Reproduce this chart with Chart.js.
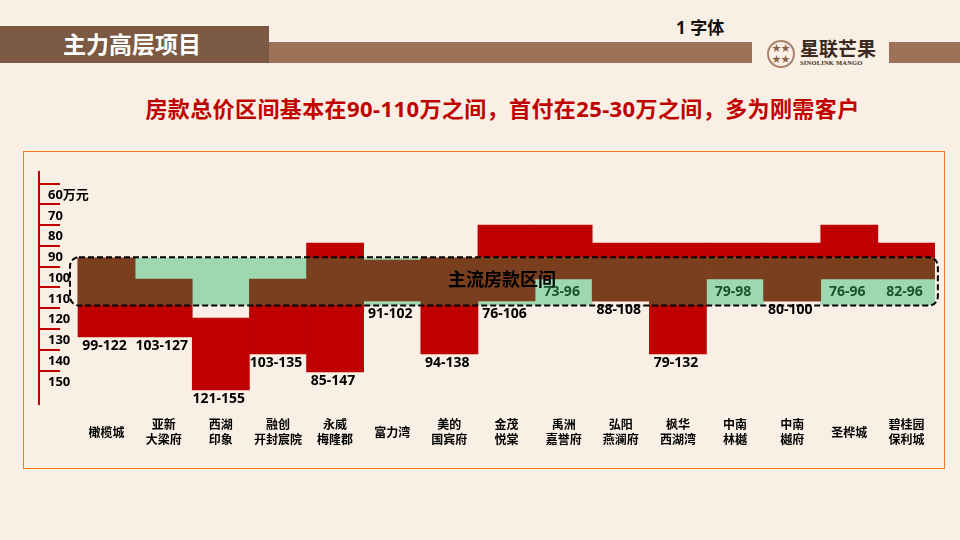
<!DOCTYPE html>
<html lang="zh">
<head>
<meta charset="UTF-8">
<title>主力高层项目</title>
<script src="https://cdn.jsdelivr.net/npm/chart.js"></script>
<style>
  body { margin: 0; background: #f9efe5; font-family: "Noto Sans", "Noto Sans CJK SC", sans-serif; }
  #page { position: relative; width: 960px; height: 540px; overflow: hidden; background: #f9efe5; }
  .bar-dark { position: absolute; left: 0; top: 26px; width: 269px; height: 37px; background: #7b5943; }
  .bar-light { position: absolute; top: 42px; height: 21px; background: #9e7259; }
  .title { position: absolute; left: 63px; top: 26px; height: 37px; line-height: 37px; color: #fff; font-weight: bold; font-size: 23px; }
  .tag { position: absolute; left: 676px; top: 14px; font-size: 17px; font-weight: bold; color: #111; }
  .logo { position: absolute; left: 767px; top: 40px; width: 24px; height: 24px; border: 2px solid #a8826a; border-radius: 50%; color: #8a6248; font-size: 9px; line-height: 11px; text-align: center; }
  .brand { position: absolute; left: 800px; top: 37px; font-size: 19px; font-weight: bold; color: #3b2a22; line-height: 24px; }
  .brand-en { position: absolute; left: 800px; top: 59px; font-size: 6.5px; font-family: "Liberation Serif", serif; font-weight: bold; color: #3b2a22; letter-spacing: 0.2px; }
  .sub { position: absolute; left: 0; width: 1005px; top: 91px; text-align: center; font-size: 22px; letter-spacing: 0.4px; font-weight: bold; color: #c00000; white-space: nowrap; }
  .box { position: absolute; left: 23px; top: 151px; width: 922px; height: 318px; outline: 1.5px solid #f07820; outline-offset: -1px; z-index: 2; pointer-events: none; }
  canvas { position: absolute; left: 0; top: 0; z-index: 1; }
</style>
</head>
<body>
<div id="page">
  <div class="bar-dark"></div>
  <div class="bar-light" style="left:269px; width:483px;"></div>
  <div class="bar-light" style="left:889px; width:71px;"></div>
  <div class="title">主力高层项目</div>
  <div class="tag">1 字体</div>
  <div class="logo">★★<br>★★</div>
  <div class="brand">星联芒果</div>
  <div class="brand-en">SINOLINK MANGO</div>
  <div class="sub">房款总价区间基本在90-110万之间，首付在25-30万之间，多为刚需客户</div>
  <canvas id="chart" width="960" height="540"></canvas>
  <div class="box"></div>
</div>

<script>
  // 项目名称（换行处用 \n）
  const categories = ['橄榄城', '亚新\n大梁府', '西湖\n印象', '融创\n开封宸院', '永威\n梅隆郡', '富力湾',
    '美的\n国宾府', '金茂\n悦棠', '禹洲\n嘉誉府', '弘阳\n燕澜府', '枫华\n西湖湾', '中南\n林樾', '中南\n樾府',
    '圣桦城', '碧桂园\n保利城'];

  // 总价区间文字
  const rangeText = ['99-122', '103-127', '121-155', '103-135', '85-147', '91-102', '94-138', '76-106',
    '73-96', '88-108', '79-132', '79-98', '80-100', '76-96', '82-96'];
  const labelInGreen = [false, false, false, false, false, false, false, false,
    true, false, false, true, false, true, true];

  // 色块区间（万元，按图上位置读取）
  const redBars = [[90.3, 128.3], [100.4, 128.3], [119.2, 153.8], [100.4, 136.5], [83.1, 145.2], null,
    [90.3, 136.5], [74.4, 111.0], [74.4, 100.4], [83.1, 111.0], [83.1, 136.5], [83.1, 100.4],
    [83.1, 111.0], [74.4, 100.4], [83.1, 100.4]];
  const greenBars = [null, [90.3, 100.4], [90.3, 112.9], [90.3, 100.4], null, [90.3, 112.9], null,
    [90.3, 112.9], [90.3, 112.9], null, null, [90.3, 112.9], null, [90.3, 112.9], [90.3, 112.9]];
  const brownBars = [[90.3, 112.9], [100.4, 112.9], null, [100.4, 112.9], [90.3, 112.9], [91.3, 111.0],
    [90.3, 112.9], [90.3, 111.0], [90.3, 100.4], [90.3, 111.0], [90.3, 112.9], [90.3, 100.4],
    [90.3, 111.0], [90.3, 100.4], [90.3, 100.4]];

  // 主流房款区间
  const mainBand = [89.9, 113.2];
  const bandTitle = '主流房款区间';

  // 纵轴刻度
  const tickValues = [60, 70, 80, 90, 100, 110, 120, 130, 140, 150];
  const tickLabels = ['60万元', '70', '80', '90', '100', '110', '120', '130', '140', '150'];

  const FONT = '"Noto Sans", "Noto Sans CJK SC", sans-serif';
  Chart.defaults.font.family = FONT;

  const overlay = {
    id: 'overlay',
    afterDatasetsDraw(chart) {
      const { ctx, scales: { x, y } } = chart;
      const left = x.getPixelForValue(-0.64);
      const right = x.getPixelForValue(14.55);
      const top = y.getPixelForValue(mainBand[0]);
      const bottom = y.getPixelForValue(mainBand[1]);
      ctx.save();
      ctx.setLineDash([6, 3]);
      ctx.lineWidth = 2;
      ctx.strokeStyle = '#000';
      ctx.beginPath();
      ctx.roundRect(left, top, right - left, bottom - top, 9);
      ctx.stroke();
      ctx.setLineDash([]);

      ctx.textAlign = 'center';
      ctx.textBaseline = 'middle';
      ctx.fillStyle = '#000';
      ctx.font = 'bold 18px ' + FONT;
      ctx.fillText(bandTitle, x.getPixelForValue(6.92), (top + bottom) / 2);

      ctx.font = 'bold 14px ' + FONT;
      rangeText.forEach((t, i) => {
        let py;
        if (labelInGreen[i]) {
          ctx.fillStyle = '#17552c';
          py = y.getPixelForValue((brownBars[i][1] + greenBars[i][1]) / 2);
        } else {
          ctx.fillStyle = '#000';
          const low = Math.max(...[redBars[i], greenBars[i], brownBars[i]].filter(Boolean).map(r => r[1]));
          py = y.getPixelForValue(low) + 9;
        }
        ctx.fillText(t, x.getPixelForValue(i) - 2, py);
      });
      ctx.restore();
    }
  };

  new Chart(document.getElementById('chart'), {
    type: 'bar',
    data: {
      labels: categories.map((_, i) => i),
      datasets: [
        { label: '重叠', data: brownBars, backgroundColor: '#7a3f1f', order: 1 },
        { label: '区间外', data: greenBars, backgroundColor: '#9fd8b0', order: 2 },
        { label: '总价', data: redBars, backgroundColor: '#c00000', order: 3 }
      ]
    },
    options: {
      responsive: false,
      animation: false,
      datasets: { bar: { grouped: false, barPercentage: 1, categoryPercentage: 1, borderWidth: 0 } },
      layout: { padding: { left: 39, right: 25, top: 172, bottom: 86 } },
      plugins: { legend: { display: false }, tooltip: { enabled: false } },
      scales: {
        x: {
          type: 'linear',
          offset: false,
          min: -1.1826,
          max: 14.5,
          grid: { display: false, drawTicks: false },
          border: { display: false },
          afterBuildTicks: s => { s.ticks = categories.map((_, i) => ({ value: i })); },
          afterFit: s => { s.height = 50; },
          ticks: {
            autoSkip: false,
            maxRotation: 0,
            crossAlign: 'center',
            padding: 22,
            color: '#000',
            font: { size: 12, weight: 'bold', lineHeight: 1.25 },
            callback: (v, i) => categories[i].split('\n')
          }
        },
        y: {
          reverse: true,
          min: 48.9,
          max: 160.6,
          afterBuildTicks: s => { s.ticks = tickValues.map(v => ({ value: v - 5.5 })); },
          afterFit: s => { s.width = 0; },
          border: { display: true, color: '#c00000', width: 2 },
          grid: { drawOnChartArea: false, drawTicks: true, tickLength: -21, color: '#c00000', lineWidth: 2 },
          ticks: {
            mirror: true,
            padding: 9,
            labelOffset: 11.5,
            color: '#000',
            font: { size: 13, weight: 'bold' },
            callback: (v, i) => tickLabels[i]
          }
        }
      }
    },
    plugins: [overlay]
  });
</script>
</body>
</html>
